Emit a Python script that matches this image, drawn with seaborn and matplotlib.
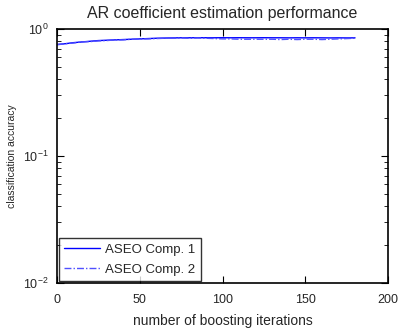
import matplotlib
matplotlib.use("Agg")
import matplotlib.pyplot as plt
import numpy as np
import pandas as pd
import seaborn as sns

# boosting iterations (sampled every 5)
iterations = [0, 5, 10, 15, 20, 25, 30, 35, 40, 45, 50, 55, 60, 65, 70, 75, 80, 85,
              90, 95, 100, 105, 110, 115, 120, 125, 130, 135, 140, 145, 150, 155,
              160, 165, 170, 175, 180]

comp1_acc = [0.755, 0.765, 0.78, 0.79, 0.80, 0.81, 0.815, 0.82, 0.825, 0.83, 0.835,
             0.84, 0.845, 0.848, 0.85, 0.852, 0.852, 0.853, 0.853, 0.852, 0.853,
             0.852, 0.853, 0.852, 0.852, 0.853, 0.852, 0.852, 0.851, 0.852, 0.851,
             0.852, 0.851, 0.850, 0.851, 0.850, 0.851]

comp2_acc = [0.75, 0.765, 0.775, 0.79, 0.795, 0.805, 0.81, 0.82, 0.82, 0.83, 0.835,
             0.835, 0.84, 0.845, 0.845, 0.85, 0.845, 0.85, 0.845, 0.84, 0.835,
             0.835, 0.83, 0.83, 0.83, 0.83, 0.83, 0.825, 0.83, 0.825, 0.83,
             0.83, 0.825, 0.83, 0.835, 0.84, 0.845]

series_names = ["ASEO Comp. 1", "ASEO Comp. 2"]

df = pd.concat([
    pd.DataFrame({"iter": iterations, "acc": comp1_acc, "method": series_names[0]}),
    pd.DataFrame({"iter": iterations, "acc": comp2_acc, "method": series_names[1]}),
])

sns.set_style("white")
plt.rcParams["font.family"] = ["Liberation Sans", "DejaVu Sans"]

fig = plt.figure(figsize=(4.01, 3.29), dpi=100)
ax = fig.add_axes([0.142, 0.140, 0.826, 0.772])

sns.lineplot(data=df, x="iter", y="acc", hue="method", style="method",
             palette=["#0000ff", "#5050ff"], dashes=[(None, None), (5, 1.5, 1, 1.5)],
             linewidth=1.0, ax=ax)

ax.set_yscale("log")
ax.set_xlim(0, 200)
ax.set_ylim(0.01, 1)
ax.set_xticks([0, 50, 100, 150, 200])
ax.tick_params(which="both", direction="in", top=True, right=True,
               left=True, bottom=True, labelsize=9, color="black")
ax.tick_params(which="major", length=5, width=0.8)
ax.tick_params(which="minor", length=3, width=0.6)
ax.tick_params(axis="x", pad=8)
ax.tick_params(axis="y", pad=6)
for sp in ax.spines.values():
    sp.set_color("black")
    sp.set_linewidth(1.2)

ax.set_title("AR coefficient estimation performance", fontsize=11.5, pad=8)
ax.set_xlabel("number of boosting iterations", fontsize=10, labelpad=6)
ax.set_ylabel("classification accuracy", fontsize=7.5, labelpad=4)

leg = ax.legend(loc="lower left", fontsize=9.5, frameon=True, fancybox=False,
                borderaxespad=0.15, handlelength=2.7, labelspacing=0.6,
                borderpad=0.4, handletextpad=0.4)
leg.get_frame().set_edgecolor("black")
leg.get_frame().set_linewidth(1.0)
leg.set_title(None)

fig.savefig("out.png", dpi=100)
